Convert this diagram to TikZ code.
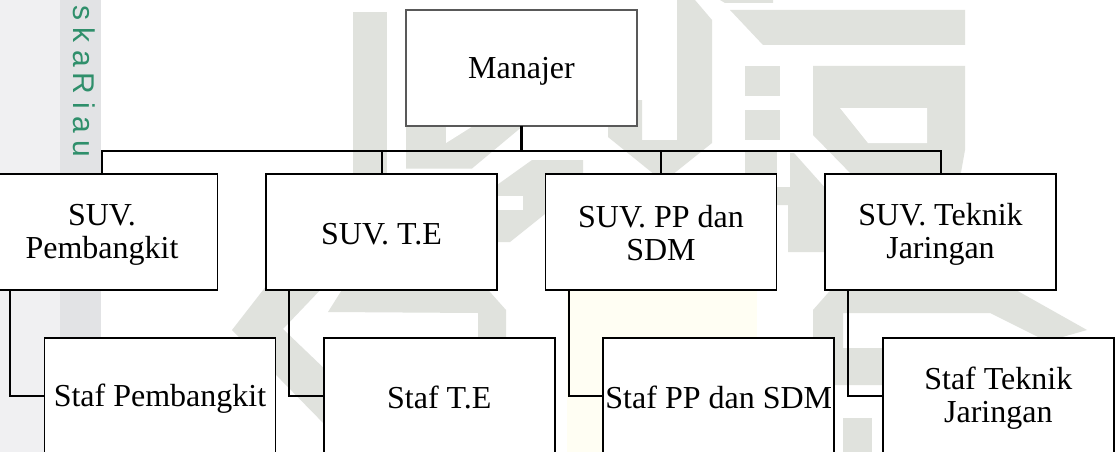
\documentclass[tikz,border=0pt]{standalone}
\usepackage{fontspec}
\setmainfont{Liberation Serif}
\newfontfamily\stripfont[LetterSpace=25]{Liberation Sans}
\definecolor{wmark}{HTML}{E0E2DD}
\definecolor{stripa}{HTML}{F0F0F2}
\definecolor{stripb}{HTML}{E2E3E5}
\definecolor{seal}{HTML}{FFFEF3}
\definecolor{stripgreen}{HTML}{2F8F6B}
\newcommand{\lnstrut}{\rule[-3pt]{0pt}{30pt}}
\tikzset{
  orgbox/.style={draw=black,line width=1.8pt,fill=white,minimum width=231pt,minimum height=116pt,inner sep=0pt,outer sep=0pt,align=center,font=\fontsize{32}{32.5}\selectfont,text=black},
  topbox/.style={orgbox,draw=black!65},
  link/.style={draw=black,line width=2pt},
  stem/.style={draw=black,line width=3pt},
  wm/.style={fill=wmark,draw=none},
  hole/.style={fill=white,draw=none}
}
\begin{document}
\begin{tikzpicture}[x=1pt,y=-1pt]
\useasboundingbox (0,0) rectangle (1116,452);
\clip (0,0) rectangle (1116,452);
\fill[white] (0,0) rectangle (1116,452);
% side strip
\fill[stripa] (0,0) rectangle (60,452);
\fill[stripb] (60,0) rectangle (101,340);
\node[anchor=base west,rotate=-90,inner sep=0pt,text=stripgreen,font=\stripfont\fontsize{30}{30}\selectfont] (striplabel) at (73,5) {\spaceskip=6pt\relax ska Riau};
% faint seal
\fill[seal] (567,290) rectangle (757,340);
\fill[seal] (567,340) rectangle (603,452);
% watermark
\fill[wm] (353,12) rectangle (387,176);
\fill[wm] (406,120) -- (530,120) -- (472,168.5) -- (406,168.5) -- cycle;
\fill[hole] (446,126) -- (446,143) -- (473,126) -- cycle;
\fill[wm] (532,160) -- (583,160) -- (583,178) -- (550,210) -- (510,242) -- (490,242) -- (490,190) -- cycle;
\fill[hole] (497,196) rectangle (523,210);
\fill[wm] (485,285) -- (490,292) -- (506,310) -- (506,345) -- (478,345) -- (478,313) -- (328,312) -- (345,285) -- cycle;
\fill[wm] (267,285) -- (325,285) -- (283,329) -- (330,374) -- (330,430) -- (232,330) -- cycle;
\fill[wm] (608,100) -- (608,137) -- (655,175) -- (672,175) -- (712,143) -- (712,20) -- (695,0) -- (677,0) -- (677,140) -- (642,140) -- (642,100) -- cycle;
\fill[wm] (720,0) -- (773,0) -- (773,3) -- (725,3) -- cycle;
\fill[wm] (730,10) -- (965,10) -- (965,45) -- (763,45) -- cycle;
\fill[wm] (745,66) rectangle (780,96);
\fill[wm] (745,110) rectangle (780,140);
\fill[wm] (745,150) rectangle (777,190);
\fill[wm] (790,153) -- (794,153) -- (827,190) -- (827,252) -- (788,252) -- (788,205) -- (775,205) -- (775,187) -- (790,187) -- cycle;
\fill[wm] (813,66) -- (965,66) -- (965,150) -- (960,178) -- (855,178) -- (813,135) -- cycle;
\fill[hole] (840,108) -- (927,108) -- (927,143) -- (868,143) -- cycle;
\fill[wm] (835,285) -- (813,310) -- (813,362) -- (835,385) -- (883,385) -- (883,348) -- (843,348) -- (843,313) -- (990,313) -- (1040,338) -- (1052,340) -- (1087,330) -- (1007,285) -- cycle;
\fill[wm] (843,418) rectangle (872,452);
% nodes
\node[topbox] (m) at (521.5,68) {\lnstrut Manajer};
\node[orgbox] (s1) at (102,232) {\lnstrut SUV.\\\lnstrut Pembangkit};
\node[orgbox] (s2) at (381.5,232) {\lnstrut SUV. T.E};
\node[orgbox] (s3) at (661,232) {\lnstrut SUV. PP dan\\\lnstrut SDM};
\node[orgbox] (s4) at (940.5,232) {\lnstrut SUV. Teknik\\\lnstrut Jaringan};
\node[orgbox] (t1) at (160,396) {\lnstrut Staf Pembangkit};
\node[orgbox] (t2) at (439.3,396) {\lnstrut Staf T.E};
\node[orgbox] (t3) at (718.8,396) {\lnstrut Staf PP dan SDM};
\node[orgbox] (t4) at (998.3,396) {\lnstrut Staf Teknik\\\lnstrut Jaringan};
% connectors
\coordinate (bus) at (521.5,151);
\coordinate (c1) at (10,290);
\coordinate (c2) at (289.3,290);
\coordinate (c3) at (569,290);
\coordinate (c4) at (848.3,290);
\draw[stem] (m.south) -- (bus);
\draw[link] (s1.north) -- (s1.north |- bus) -- (s4.north |- bus) -- (s4.north);
\draw[link] (s2.north) -- (s2.north |- bus);
\draw[link] (s3.north) -- (s3.north |- bus);
\draw[link] (c1) |- (t1.west);
\draw[link] (c2) |- (t2.west);
\draw[link] (c3) |- (t3.west);
\draw[link] (c4) |- (t4.west);
\end{tikzpicture}
\end{document}
